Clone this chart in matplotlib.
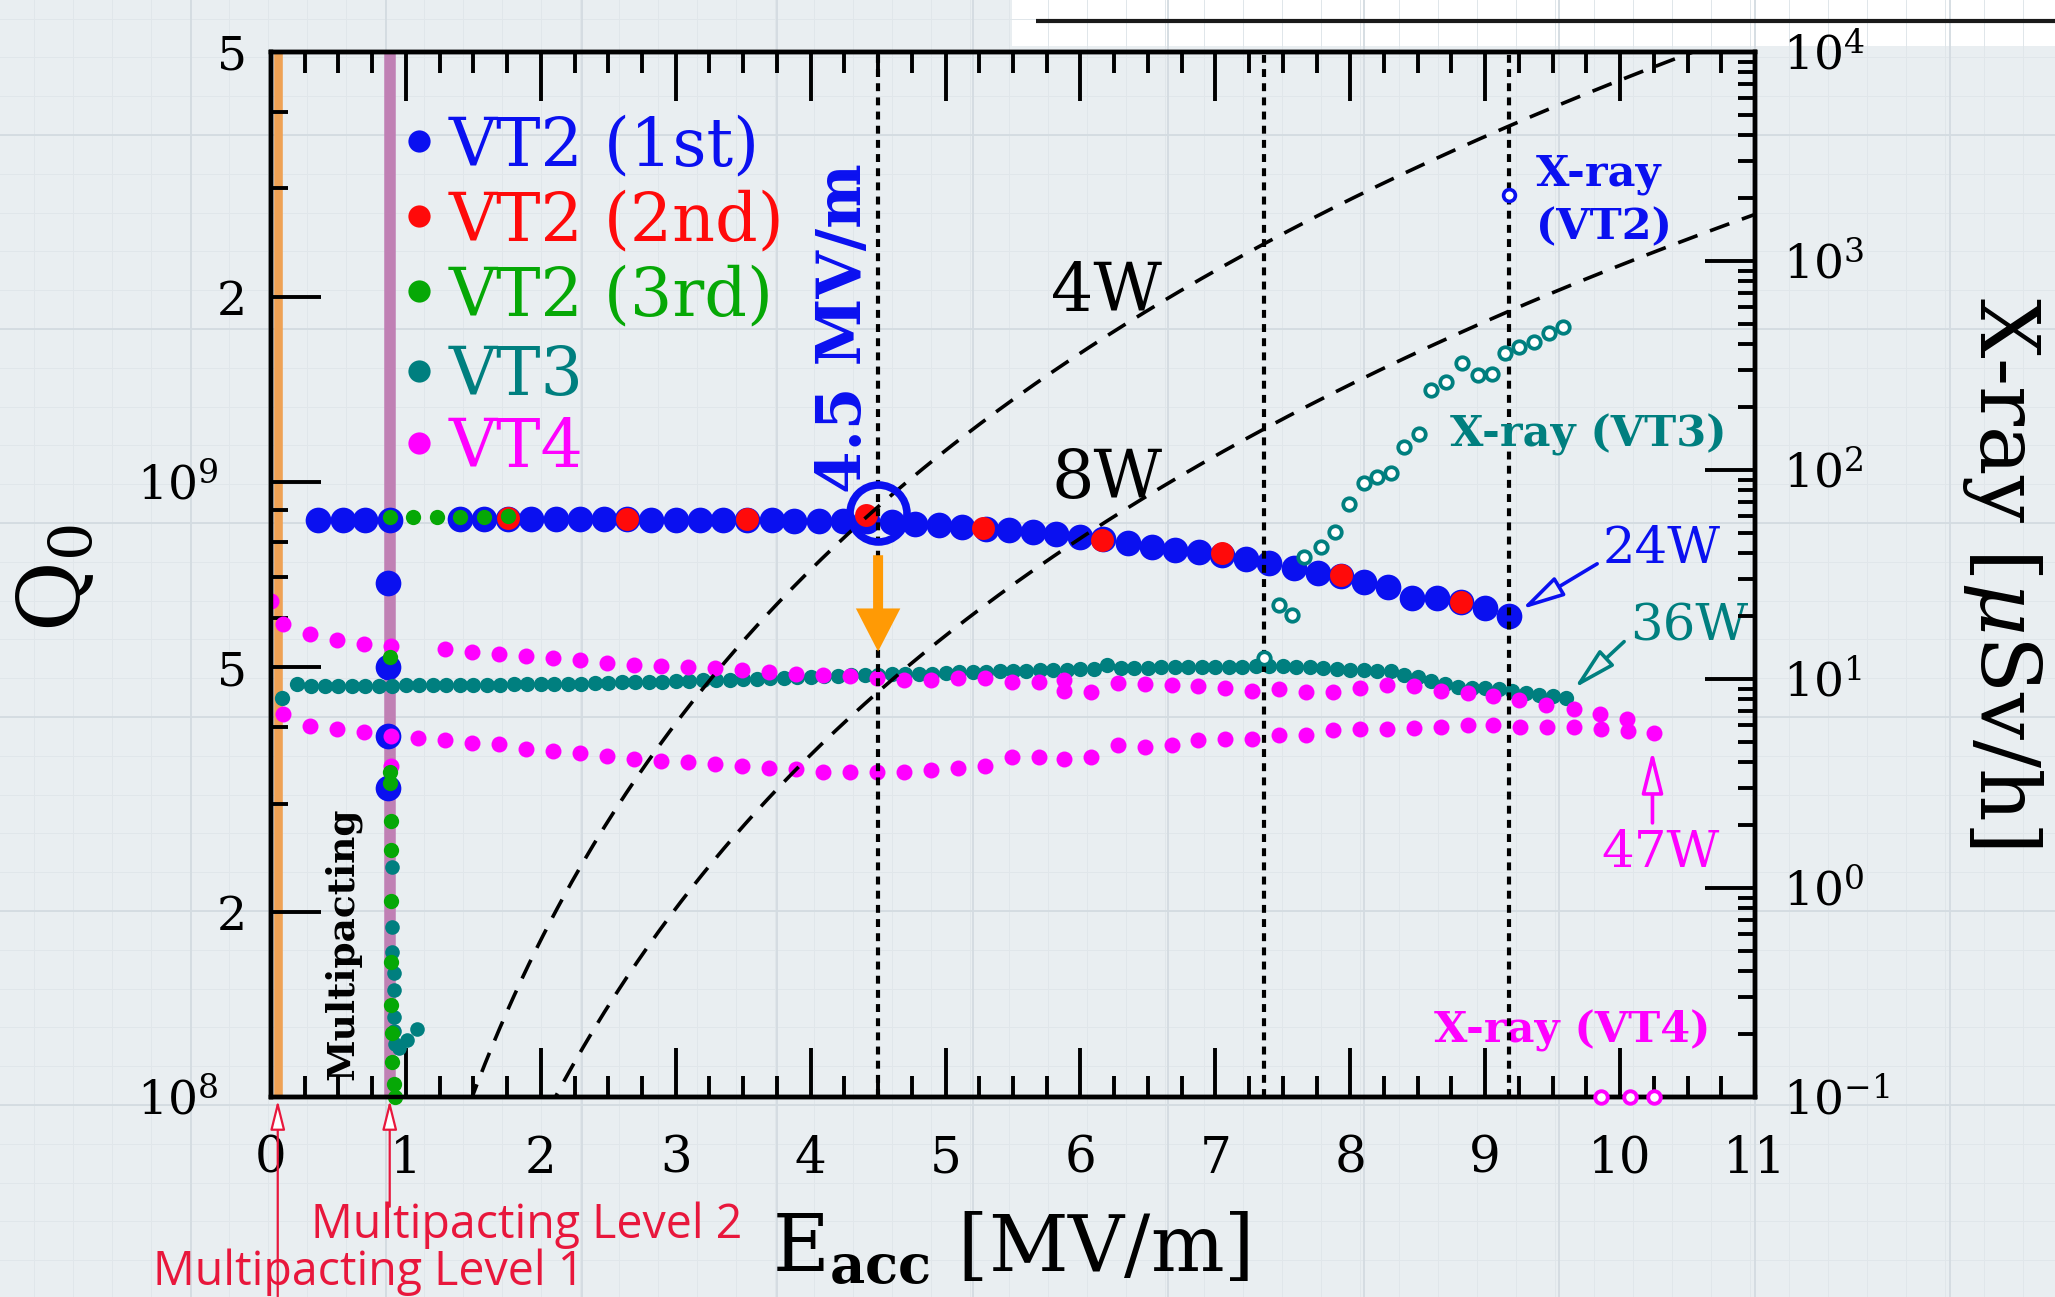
import numpy as np
import matplotlib
matplotlib.use('Agg')
import matplotlib.pyplot as plt
import matplotlib.transforms as mtransforms
from matplotlib.patches import Rectangle, FancyArrowPatch
from matplotlib.ticker import FixedLocator, NullFormatter, MultipleLocator, LogLocator

plt.rcParams['font.family'] = ['DejaVu Serif']
plt.rcParams['mathtext.fontset'] = 'dejavuserif'

# ---------------- data (Eacc in MV/m, Q0 in units of 1e8, X-ray in uSv/h) ----------------
vt2_1st_E = [0.35, 0.53, 0.70, 0.88, 0.87, 0.87, 0.87, 0.87, 1.40, 1.58, 1.76, 1.93, 2.11, 2.29,
             2.47, 2.64, 2.82, 3.00, 3.18, 3.35, 3.53, 3.71, 3.88, 4.06, 4.24, 4.42, 4.60, 4.77,
             4.95, 5.12, 5.30, 5.47, 5.65, 5.82, 6.00, 6.17, 6.35, 6.53, 6.70, 6.88, 7.05, 7.23,
             7.40, 7.58, 7.76, 7.93, 8.10, 8.28, 8.46, 8.64, 8.82, 9.00, 9.18]
vt2_1st_Q = [8.68, 8.68, 8.68, 8.68, 6.85, 5.00, 3.86, 3.18, 8.70, 8.70, 8.70, 8.70, 8.70, 8.69,
             8.69, 8.69, 8.68, 8.68, 8.67, 8.67, 8.66, 8.66, 8.65, 8.65, 8.64, 8.64, 8.61, 8.55,
             8.52, 8.45, 8.38, 8.34, 8.28, 8.22, 8.15, 8.08, 7.95, 7.85, 7.75, 7.68, 7.60, 7.50,
             7.38, 7.24, 7.11, 7.04, 6.88, 6.74, 6.47, 6.47, 6.38, 6.24, 6.05]

vt2_2nd_E = [1.76, 2.64, 3.53, 4.41, 5.28, 6.16, 7.05, 7.93, 8.82]
vt2_2nd_Q = [8.75, 8.72, 8.70, 8.84, 8.40, 8.05, 7.66, 7.05, 6.37]

vt2_3rd_E = [0.88, 1.05, 1.23, 1.40, 1.58, 1.76, 0.88, 0.88, 0.88, 0.89, 0.89, 0.89, 0.89, 0.89,
             0.90, 0.90, 0.91, 0.92]
vt2_3rd_Q = [8.78, 8.78, 8.78, 8.78, 8.78, 8.80, 5.19, 3.37, 3.24, 2.81, 2.52, 2.08, 1.66, 1.41,
             1.27, 1.14, 1.05, 1.00]

vt3_E = [0.08, 0.19, 0.3, 0.4, 0.5, 0.6, 0.7, 0.8, 0.9, 1.0, 1.1, 1.2, 1.3, 1.4, 1.5, 1.6, 1.7,
         1.8, 1.9, 2.0, 2.1, 2.2, 2.3, 2.4, 2.5, 2.6, 2.7, 2.8, 2.9, 3.0, 3.1, 3.2, 3.3, 3.4, 3.5,
         3.6, 3.7, 3.8, 3.9, 4.0, 4.1, 4.2, 4.3, 4.4, 4.5, 4.6, 4.7, 4.8, 4.9, 5.0, 5.1, 5.2, 5.3,
         5.4, 5.5, 5.6, 5.7, 5.8, 5.9, 6.0, 6.1, 6.2, 6.3, 6.4, 6.5, 6.6, 6.7, 6.8, 6.9, 7.0, 7.1,
         7.2, 7.3, 7.4, 7.5, 7.6, 7.7, 7.8, 7.9, 8.0, 8.1, 8.2, 8.3, 8.4, 8.5, 8.6, 8.7, 8.8, 8.9,
         9.0, 9.1, 9.2, 9.3, 9.4, 9.5, 9.6]
vt3_Q = [4.46, 4.70,
         4.66, 4.66, 4.66, 4.66, 4.66, 4.66, 4.66, 4.67, 4.67, 4.67, 4.67, 4.68, 4.68, 4.68, 4.68,
         4.69, 4.69, 4.69, 4.70, 4.70,
         4.70, 4.71, 4.71, 4.72, 4.72, 4.73, 4.73, 4.74, 4.75,
         4.76, 4.76, 4.77, 4.78, 4.79, 4.80, 4.80, 4.81, 4.82,
         4.83, 4.84, 4.85, 4.85, 4.86, 4.87, 4.87, 4.88, 4.88, 4.89,
         4.90, 4.90, 4.91, 4.92, 4.93, 4.93, 4.94, 4.95, 4.95, 4.96, 4.97,
         5.03,
         4.98, 4.99, 4.99, 5.00, 5.00, 5.00, 5.01, 5.01, 5.01, 5.01, 5.02, 5.02,
         5.02, 5.01, 5.00, 4.98, 4.96, 4.95, 4.94, 4.93, 4.92,
         4.86, 4.81, 4.75, 4.69, 4.64, 4.62, 4.63, 4.60, 4.57, 4.53, 4.50, 4.49, 4.46]
vt3_drop_E = [0.90, 0.90, 0.90, 0.91, 0.91, 0.91, 0.91, 0.92, 0.95, 1.01, 1.08]
vt3_drop_Q = [2.37, 1.89, 1.72, 1.59, 1.49, 1.35, 1.28, 1.22, 1.20, 1.24, 1.29]

vt4_up_E = [0.0, 0.09, 0.29, 0.49, 0.69, 0.89, 1.29, 1.49, 1.69, 1.89, 2.09, 2.29, 2.49, 2.69,
            2.89, 3.09, 3.29, 3.49, 3.69, 3.89, 4.09, 4.29, 4.49, 4.69, 4.89, 5.09, 5.29, 5.49,
            5.69, 5.88, 5.88, 6.08, 6.28, 6.48, 6.68, 6.87, 7.07, 7.27, 7.47, 7.67, 7.87, 8.07,
            8.27, 8.47, 8.67, 8.87, 9.06, 9.25, 9.45, 9.66, 9.85, 10.05]
vt4_up_Q = [6.40, 5.88, 5.66, 5.53, 5.46, 5.42, 5.35, 5.29, 5.25, 5.21, 5.18, 5.14, 5.08, 5.04,
            5.02, 5.00, 4.98, 4.94, 4.90, 4.87, 4.85, 4.84, 4.80, 4.76, 4.76, 4.80, 4.80, 4.73,
            4.73, 4.76, 4.58, 4.56, 4.71, 4.70, 4.67, 4.65, 4.63, 4.58, 4.60, 4.56, 4.56, 4.63,
            4.67, 4.65, 4.58, 4.54, 4.48, 4.42, 4.34, 4.28, 4.20, 4.12]
vt4_lo_E = [0.09, 0.29, 0.49, 0.69, 0.89, 0.89, 1.09, 1.29, 1.49, 1.69, 1.89, 2.09, 2.29, 2.49,
            2.69, 2.89, 3.09, 3.29, 3.49, 3.69, 3.89, 4.09, 4.29, 4.49, 4.69, 4.89, 5.09, 5.29,
            5.49, 5.69, 5.88, 6.08, 6.28, 6.48, 6.68, 6.87, 7.07, 7.27, 7.47, 7.67, 7.87, 8.07,
            8.27, 8.47, 8.67, 8.87, 9.06, 9.26, 9.46, 9.66, 9.86, 10.06, 10.25]
vt4_lo_Q = [4.19, 4.01, 3.96, 3.92, 3.87, 3.45, 3.84, 3.80, 3.77, 3.75, 3.68, 3.65, 3.62, 3.58,
            3.54, 3.52, 3.50, 3.48, 3.45, 3.43, 3.42, 3.38, 3.38, 3.37, 3.37, 3.40, 3.43, 3.45,
            3.57, 3.57, 3.54, 3.57, 3.73, 3.71, 3.73, 3.80, 3.82, 3.82, 3.88, 3.88, 3.95, 3.96,
            3.97, 3.98, 3.99, 4.02, 4.02, 3.99, 3.99, 3.99, 3.97, 3.94, 3.90]

xray_vt2_E = [9.18]
xray_vt2 = [2080]
xray_vt3_E = [7.36, 7.47, 7.57, 7.66, 7.78, 7.89, 7.99, 8.10, 8.20, 8.30, 8.40, 8.51, 8.60, 8.71,
              8.83, 8.95, 9.05, 9.15, 9.25, 9.36, 9.47, 9.58]
xray_vt3 = [12.6, 22.6, 20.2, 38.4, 42.8, 50.5, 68.7, 86.7, 92.7, 96.8, 129, 149, 241, 264,
            325, 285, 288, 363, 388, 409, 453, 483]
xray_vt4_E = [9.86, 10.07, 10.25]
xray_vt4 = [0.1, 0.1, 0.1]

marked_E = [4.5, 7.36, 9.18]           # dotted guide lines
mp_level_E = [0.05, 0.88]              # multipacting levels 1 and 2
power_levels = [4, 8]                  # W, constant-loss curves
loss_const = 1.8e8                     # Q0 = loss_const * Eacc^2 / P
big_ring = (4.5, 8.9)                  # 4.5 MV/m operating point
orange_arrow_Q = (7.6, 5.3)

xticks = list(range(0, 12))
q_major = [1e8, 2e8, 5e8, 1e9, 2e9, 5e9]
q_major_labels = [r'$10^{8}$', '2', '5', r'$10^{9}$', '2', '5']
q_minor = [3e8, 4e8, 6e8, 7e8, 8e8, 9e8, 3e9, 4e9]
x_decades = [1e-1, 1e0, 1e1, 1e2, 1e3, 1e4]
x_labels = [r'$10^{-1}$', r'$10^{0}$', r'$10^{1}$', r'$10^{2}$', r'$10^{3}$', r'$10^{4}$']

legend_labels = ['VT2 (1st)', 'VT2 (2nd)', 'VT2 (3rd)', 'VT3', 'VT4']

BLUE, RED, GREEN, TEAL, MAG = '#0a10f0', '#ff0a0a', '#06a806', '#007f7f', '#ff00ff'
ORANGE_LINE, PURPLE_LINE, ORANGE = '#efa255', '#c080b4', '#ff9a05'
TXTRED = '#e8173c'
BG = '#e9eef1'
legend_colors = [BLUE, RED, GREEN, TEAL, MAG]

E8 = 1e8
def q(v):
    return [x * E8 for x in v]

# ---------------- figure ----------------
W, H = 2055, 1297
fig = plt.figure(figsize=(W / 100, H / 100), dpi=100)
fig.patch.set_facecolor(BG)

bg = fig.add_axes([0, 0, 1, 1], zorder=-10)
bg.set_xlim(0, W)
bg.set_ylim(H, 0)
bg.axis('off')
for xv in np.arange(190 - 195 * 2, W, 39.0):
    bg.axvline(xv, color='#e0e6ea', lw=0.7)
for yv in np.arange(135 - 194, H, 38.8):
    bg.axhline(yv, color='#e0e6ea', lw=0.7)
for xv in np.arange(190 - 195, W, 195.5):
    bg.axvline(xv, color='#d3dbe1', lw=1.3)
for yv in np.arange(135 - 194, H, 194):
    bg.axhline(yv, color='#d3dbe1', lw=1.3)
bg.add_patch(Rectangle((1012, 0), W - 1012, 46, color='white', lw=0))
bg.plot([1036, W], [21, 21], color='#1a1a1a', lw=3.0, solid_capstyle='butt')

L, R, T, B = 271, 1755, 52, 1097
ax = fig.add_axes([L / W, 1 - B / H, (R - L) / W, (B - T) / H])
ax.set_facecolor('none')
ax.set_xlim(0, 11)
ax.set_yscale('log')
ax.set_ylim(1e8, 5e9)
for s in ax.spines.values():
    s.set_linewidth(3.2)
ax.xaxis.set_major_locator(FixedLocator(xticks))
ax.xaxis.set_minor_locator(MultipleLocator(0.25))
ax.xaxis.set_major_formatter(NullFormatter())
ax.tick_params(axis='x', which='both', direction='in', top=True, bottom=True,
               labelbottom=False, width=2.8)
ax.tick_params(axis='x', which='major', length=35)
ax.tick_params(axis='x', which='minor', length=15)
ax.yaxis.set_major_locator(FixedLocator(q_major))
ax.yaxis.set_minor_locator(FixedLocator(q_minor))
ax.yaxis.set_major_formatter(NullFormatter())
ax.yaxis.set_minor_formatter(NullFormatter())
ax.tick_params(axis='y', which='both', direction='in', left=True, right=False,
               labelleft=False, width=2.8)
ax.tick_params(axis='y', which='major', length=36)
ax.tick_params(axis='y', which='minor', length=12)

ax2 = ax.twinx()
ax2.set_yscale('log')
ax2.set_ylim(0.1, 1e4)
for s in ax2.spines.values():
    s.set_linewidth(3.2)
ax2.yaxis.set_major_locator(FixedLocator(x_decades))
ax2.yaxis.set_minor_locator(LogLocator(base=10, subs=np.arange(2, 10), numticks=20))
ax2.yaxis.set_major_formatter(NullFormatter())
ax2.yaxis.set_minor_formatter(NullFormatter())
ax2.tick_params(axis='y', which='both', direction='in', right=True, labelright=False, width=2.8)
ax2.tick_params(axis='y', which='major', length=36)
ax2.tick_params(axis='y', which='minor', length=12)

# vertical multipacting level bands
ax.axvline(mp_level_E[0], color=ORANGE_LINE, lw=6.2, zorder=1)
ax.axvline(mp_level_E[1], color=PURPLE_LINE, lw=8.3, zorder=1)

# data markers
ax.plot(vt2_1st_E, q(vt2_1st_Q), 'o', color=BLUE, ms=18.5, mew=0, zorder=3)
ax.plot(vt3_E, q(vt3_Q), 'o', color=TEAL, ms=11, mew=0, zorder=3.2)
ax.plot(vt3_drop_E, q(vt3_drop_Q), 'o', color=TEAL, ms=10.5, mew=0, zorder=3.2)
ax.plot(vt4_up_E, q(vt4_up_Q), 'o', color=MAG, ms=11.5, mew=0, zorder=3.4)
ax.plot(vt4_lo_E, q(vt4_lo_Q), 'o', color=MAG, ms=11.5, mew=0, zorder=3.4)
ax.plot(vt2_2nd_E, q(vt2_2nd_Q), 'o', color=RED, ms=16.5, mew=0, zorder=3.6)
ax.plot(vt2_3rd_E, q(vt2_3rd_Q), 'o', color=GREEN, ms=11, mew=0, zorder=3.8, clip_on=False)

# constant power loss curves
E_curve = np.linspace(0.3, 11, 400)
for P in power_levels:
    ax.plot(E_curve, loss_const * E_curve ** 2 / P, color='black', lw=2.6,
            dashes=(5.7, 3.7), zorder=6)
for e in marked_E:
    ax.axvline(e, color='black', lw=3.0, dashes=(1.9, 1.5), zorder=6)

# operating point ring + orange arrow
ax.plot([big_ring[0]], [big_ring[1] * E8], 'o', ms=41, mfc='none', mec=BLUE, mew=5.5, zorder=8)
ax.add_patch(FancyArrowPatch((big_ring[0], orange_arrow_Q[0] * E8), (big_ring[0], orange_arrow_Q[1] * E8),
                             arrowstyle='simple,head_length=31,head_width=32,tail_width=7.2',
                             mutation_scale=1, color=ORANGE, lw=0, shrinkA=0, shrinkB=0, zorder=7))

# X-ray points on right axis
ax2.plot(xray_vt2_E, xray_vt2, 'o', ms=8.5, mfc='white', mec=BLUE, mew=2.6, zorder=5)
ax2.plot(xray_vt3_E, xray_vt3, 'o', ms=9, mfc='white', mec=TEAL, mew=2.7, zorder=5)
ax2.plot(xray_vt4_E, xray_vt4, 'o', ms=9, mfc='white', mec=MAG, mew=2.8, zorder=5, clip_on=False)

# ---------------- tick labels ----------------
off = lambda dx, dy: mtransforms.ScaledTranslation(dx / 100, dy / 100, fig.dpi_scale_trans)
tx = mtransforms.blended_transform_factory(ax.transData, ax.transAxes)
for v in xticks:
    ax.text(v, -0.0727, str(v), transform=tx, ha='center', va='baseline', fontsize=36)
ty = mtransforms.blended_transform_factory(ax.transAxes, ax.transData)
for v, lab in zip(q_major, q_major_labels):
    fx = -0.0357 if lab.startswith('$') else -0.0162
    ax.text(fx, v, lab, transform=ty + off(0, -18), ha='right', va='baseline', fontsize=34)
ty2 = mtransforms.blended_transform_factory(ax2.transAxes, ax2.transData)
for v, lab in zip(x_decades, x_labels):
    ax2.text(1.0189, v, lab, transform=ty2 + off(0, -18), ha='left', va='baseline',
             fontsize=34, clip_on=False)

# axis labels
ax.text(-0.1287, 0.497, r'$\mathrm{Q}_{0}$', transform=ax.transAxes, rotation=90,
        rotation_mode='anchor', ha='center', va='baseline', fontsize=62)
ax.text(0.4987, -0.1675, r'$\mathrm{E}_{\mathbf{acc}}$ [MV/m]', transform=ax.transAxes,
        ha='center', va='baseline', fontsize=56)
ax.text(1.1516, 0.5024, r'X-ray [$\mu$Sv/h]', transform=ax.transAxes, rotation=-90,
        rotation_mode='anchor', ha='center', va='baseline', fontsize=60)

# legend
leg_fy = [0.9148, 0.843, 0.7713, 0.6947, 0.6258]
for lab, col, fy in zip(legend_labels, legend_colors, leg_fy):
    ax.plot([0.0997], [fy], 'o', color=col, ms=16, mew=0, transform=ax.transAxes, clip_on=False, zorder=9)
    ax.text(0.12, fy - 0.023, lab, color=col, transform=ax.transAxes, ha='left', va='baseline',
            fontsize=48)

# annotations
ax.text(0.3976, 0.7359, '4.5 MV/m', color=BLUE, transform=ax.transAxes, rotation=90,
        rotation_mode='anchor', ha='center', va='baseline', fontsize=44, fontweight='bold')
ax.text(0.5633, 0.7525, '4W', transform=ax.transAxes, ha='center', va='baseline', fontsize=48)
ax.text(0.5633, 0.5732, '8W', transform=ax.transAxes, ha='center', va='baseline', fontsize=48)
ax.text(0.8524, 0.8718, 'X-ray', color=BLUE, transform=ax.transAxes, ha='left', va='baseline',
        fontsize=31, fontweight='bold')
ax.text(0.8524, 0.8211, '(VT2)', color=BLUE, transform=ax.transAxes, ha='left', va='baseline',
        fontsize=31, fontweight='bold')
ax.text(0.7945, 0.6223, 'X-ray (VT3)', color=TEAL, transform=ax.transAxes, ha='left', va='baseline',
        fontsize=31, fontweight='bold', zorder=9)
ax.text(0.784, 0.0517, 'X-ray (VT4)', color=MAG, transform=ax.transAxes, ha='left', va='baseline',
        fontsize=31, fontweight='bold')
ax.text(0.8976, 0.511, '24W', color=BLUE, transform=ax.transAxes, ha='left', va='baseline', fontsize=37)
ax.text(0.9158, 0.4373, '36W', color=TEAL, transform=ax.transAxes, ha='left', va='baseline', fontsize=37)
ax.text(0.8966, 0.2205, '47W', color=MAG, transform=ax.transAxes, ha='left', va='baseline', fontsize=37)
ax.text(0.0553, 0.1464, 'Multipacting', transform=ax.transAxes, rotation=90, rotation_mode='anchor',
        ha='center', va='baseline', fontsize=27, fontweight='bold')

def open_arrow(tail, tip, color, lw, hl, hw, fc=BG, coords='data'):
    ax.annotate('', xy=tip, xycoords=coords, xytext=tail, textcoords=coords,
                arrowprops=dict(arrowstyle='-|>,head_length=%g,head_width=%g' % (hl, hw),
                                mutation_scale=1, color=color, fc=fc, lw=lw,
                                shrinkA=0, shrinkB=0), annotation_clip=False, zorder=9)

open_arrow((9.83, 7.36e8), (9.27, 6.21e8), BLUE, 2.6, 26, 6.5)
open_arrow((10.03, 5.5e8), (9.66, 4.62e8), TEAL, 2.6, 26, 6.5)
open_arrow((10.24, 2.79e8), (10.24, 3.66e8), MAG, 2.6, 26, 6.5)
open_arrow((mp_level_E[0], -0.191), (mp_level_E[0], -0.003), TXTRED, 1.6, 18, 4.5, fc='white',
           coords=('data', 'axes fraction'))
open_arrow((mp_level_E[1], -0.105), (mp_level_E[1], -0.003), TXTRED, 1.6, 18, 4.5, fc='white',
           coords=('data', 'axes fraction'))
ax.text(0.027, -0.1349, 'Multipacting Level 2', color=TXTRED, transform=ax.transAxes,
        ha='left', va='baseline', fontsize=33.5, family='Open Sans')
ax.text(-0.0795, -0.1799, 'Multipacting Level 1', color=TXTRED, transform=ax.transAxes,
        ha='left', va='baseline', fontsize=33.5, family='Open Sans')

fig.savefig('out.png', dpi=100, facecolor=fig.get_facecolor())
